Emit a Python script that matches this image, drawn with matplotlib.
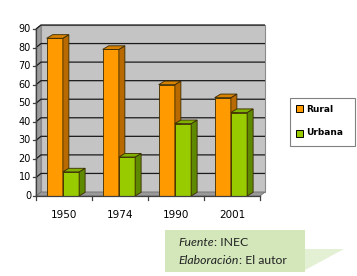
import numpy as np
import matplotlib
matplotlib.use("Agg")
import matplotlib.pyplot as plt
from matplotlib.patches import Polygon, Rectangle

# data
years = ["1950", "1974", "1990", "2001"]
rural = [85, 79, 60, 53]
urbana = [13, 21, 39, 45]
yticks = [0, 10, 20, 30, 40, 50, 60, 70, 80, 90]

W, H = 357, 276
fig = plt.figure(figsize=(W / 100, H / 100), dpi=100)
fig.patch.set_facecolor("white")

# front plane of the 3d box, in pixels
x0p, x1p = 36, 260
y0p, y9p = 196, 29
ax = fig.add_axes([x0p / W, 1 - y0p / H, (x1p - x0p) / W, (y0p - y9p) / H])
ax.set_xlim(0, 4)
ax.set_ylim(0, 90)
ax.axis("off")

pxx = 4 / (x1p - x0p)          # data units per pixel, x
pxy = 90 / (y0p - y9p)         # data units per pixel, y
wdx, wdy = 5 * pxx, 4 * pxy     # wall depth
bdx, bdy = 6 * pxx, 3.6 * pxy   # bar depth

def poly(pts, fc, ec="none", lw=0.6, z=1):
    ax.add_patch(Polygon(pts, closed=True, facecolor=fc, edgecolor=ec,
                         linewidth=lw, zorder=z, clip_on=False))

# walls
poly([(0, 0), (wdx, wdy), (wdx, 90 + wdy), (0, 90)], "#9c9c9c", "#808080", 0.6, 1)
poly([(wdx, wdy), (4 + wdx, wdy), (4 + wdx, 90 + wdy), (wdx, 90 + wdy)],
     "#c4c4c4", "#8a8a8a", 0.8, 1)
poly([(0, 0), (4, 0), (4 + wdx, wdy), (wdx, wdy)], "#9a9a9a", "#707070", 0.6, 1)

for t in yticks[1:]:
    ax.plot([0, wdx, 4 + wdx], [t, t + wdy, t + wdy], color="#1a1a1a",
            lw=0.9, zorder=2, clip_on=False, solid_capstyle="butt")

# bars
w = 0.29
cols = [("#ff9a00", "#b86a00", "#d98200"), ("#99cc00", "#5f8a00", "#80b000")]
for i in range(len(years)):
    for k, vals in enumerate([rural, urbana]):
        front, side, top = cols[k]
        xl = i + 0.5 - w + k * w - 0.02
        v = vals[i]
        ax.bar(xl, v, width=w, align="edge", color=front, edgecolor="#3a2a00",
               linewidth=0.6, zorder=3 + 2 * i + k * 0.5, clip_on=False)
        poly([(xl + w, 0), (xl + w + bdx, bdy), (xl + w + bdx, v + bdy), (xl + w, v)],
             side, "#3a2a00", 0.6, 3 + 2 * i + k * 0.5)
        poly([(xl, v), (xl + w, v), (xl + w + bdx, v + bdy), (xl + bdx, v + bdy)],
             top, "#3a2a00", 0.6, 3 + 2 * i + k * 0.5)

# axes lines and ticks
ax.plot([0, 0], [0, 90], color="#404040", lw=0.9, zorder=20, clip_on=False)
ax.plot([0, 4], [0, 0], color="#404040", lw=0.9, zorder=20, clip_on=False)
for t in yticks:
    ax.plot([-3 * pxx, 0], [t, t], color="#404040", lw=0.9, zorder=20, clip_on=False)
    ax.text(-5 * pxx, t, str(t), ha="right", va="center", fontsize=7, color="black")
for i in range(len(years) + 1):
    ax.plot([i, i], [0, -4 * pxy], color="#404040", lw=0.9, zorder=20, clip_on=False)
for i, y in enumerate(years):
    ax.text(i + 0.5, -19 * pxy, y, ha="center", va="center", fontsize=7.5, color="black")

# legend (figure pixels)
def fx(x):
    return x / W

def fy(y):
    return 1 - y / H

fig.patches.append(Rectangle((fx(290), fy(146)), 65 / W, 48 / H, transform=fig.transFigure,
                             facecolor="white", edgecolor="#808080", linewidth=0.8))
for yy, name, c in [(109, "Rural", "#ff9a00"), (133, "Urbana", "#99cc00")]:
    fig.patches.append(Rectangle((fx(296), fy(yy + 3.5)), 7 / W, 7 / H,
                                 transform=fig.transFigure, facecolor=c,
                                 edgecolor="black", linewidth=0.7))
    fig.text(fx(306), fy(yy), name, ha="left", va="center", fontsize=6.5,
             fontweight="bold", color="black")

# source callout
fig.patches.append(Polygon([(fx(305), fy(249)), (fx(344), fy(249)), (fx(305), fy(270))],
                           closed=True, transform=fig.transFigure,
                           facecolor="#e4f0d4", edgecolor="none"))
fig.patches.append(Rectangle((fx(165), fy(272)), 140 / W, 42 / H, transform=fig.transFigure,
                             facecolor="#d3e7bb", edgecolor="none"))

fig.canvas.draw()
r = fig.canvas.get_renderer()
for yy, it, rest in [(243, "Fuente", ": INEC"), (260, "Elaboración", ": El autor")]:
    t1 = fig.text(fx(178), fy(yy), it, ha="left", va="center", fontsize=8.8,
                  style="italic", family="Lato", color="#222222")
    bb = t1.get_window_extent(r)
    fig.text(fx(bb.x1 + 0.5), fy(yy), rest, ha="left", va="center", fontsize=8.8,
             family="Lato", color="#222222")

fig.savefig("out.png", dpi=100)
